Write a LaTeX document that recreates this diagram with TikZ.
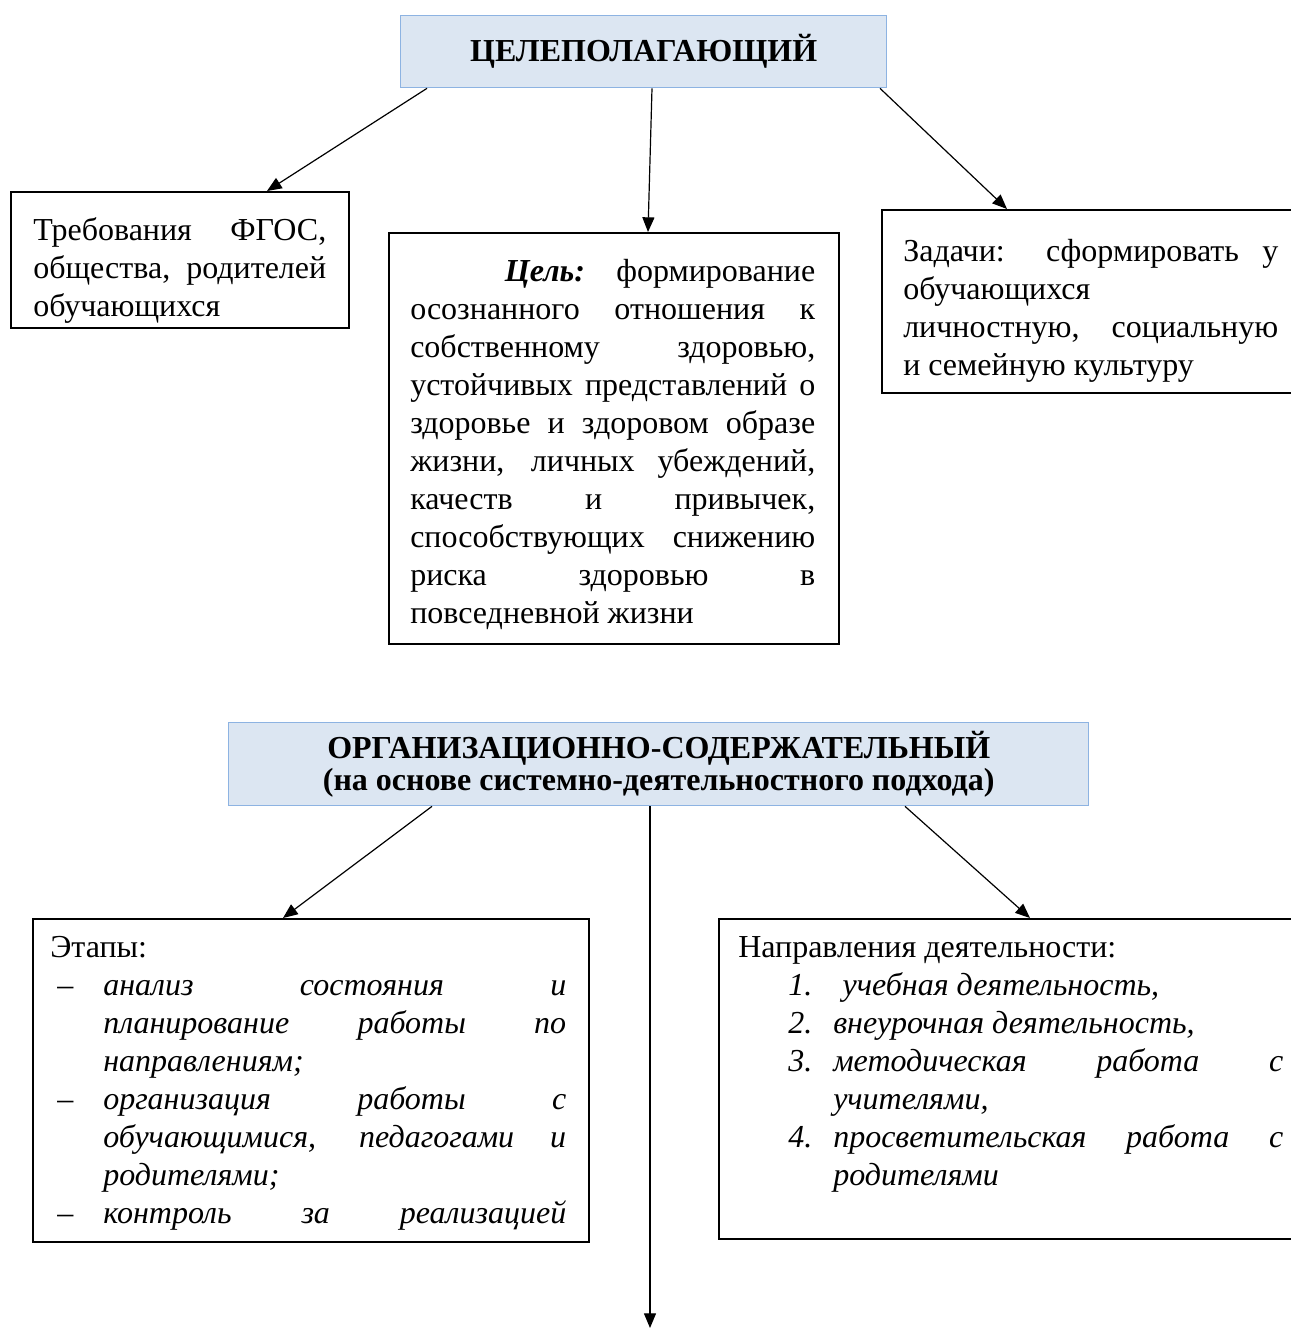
\documentclass[tikz,border=0pt]{standalone}
\usepackage{fontspec}
\setmainfont{Liberation Serif}
\usetikzlibrary{arrows.meta,calc}
\definecolor{boxfill}{RGB}{220,230,242}
\definecolor{boxline}{RGB}{141,179,226}
\tolerance=10000
\hbadness=10000
\hfuzz=100pt
\hyphenpenalty=10000
\begin{document}
\begin{tikzpicture}[x=0.75pt,y=-0.75pt,
  bluebox/.style={draw=boxline, line width=1pt, fill=boxfill, rectangle, anchor=north west, inner sep=0pt},
  plainbox/.style={draw=black, line width=1.6pt, fill=white, rectangle, anchor=north west, inner sep=0pt},
  bodytext/.style={anchor=north west, inner sep=0pt, align=justify, font=\fontsize{24pt}{28.5pt}\selectfont},
  titletext/.style={inner sep=0pt, align=center, font=\fontsize{24pt}{24pt}\selectfont\bfseries},
  arr/.style={line width=0.9pt, -{Triangle[length=11pt,width=9pt]}}]
\clip (0,0) rectangle (1291,1329);
\useasboundingbox (0,0) rectangle (1291,1329);
\fill[white] (0,0) rectangle (1291,1329);

% boxes
\node[bluebox, minimum width=364.5pt, minimum height=54pt] (b1) at (400,15) {};
\node[titletext] (b1t) at (b1.center) {ЦЕЛЕПОЛАГАЮЩИЙ};

\node[plainbox, minimum width=253.5pt, minimum height=102pt] (lb) at (10,191) {};
\node[plainbox, minimum width=337.5pt, minimum height=308.25pt] (mb) at (388,232) {};
\node[plainbox, minimum width=315pt, minimum height=137.25pt] (rb) at (881,209) {};

\node[bluebox, minimum width=645pt, minimum height=62.25pt] (b2) at (228,722) {};
\node[titletext] (b2t) at (b2.center) {ОРГАНИЗАЦИОННО-СОДЕРЖАТЕЛЬНЫЙ\\(на основе системно-деятельностного подхода)};

\node[plainbox, minimum width=417pt, minimum height=242.25pt] (lb2) at (32,918) {};
\node[plainbox, minimum width=437.25pt, minimum height=240pt] (rb2) at (718,918) {};

% texts
\node[bodytext, text width=219.75pt] (lbt) at (33,217) {\noindent Требования ФГОС,\linebreak общества, родителей\linebreak обучающихся};

\node[bodytext, text width=303.75pt] (mbt) at (410,259) {\noindent\hspace*{71pt}\textbf{\textit{Цель:}} формирование\linebreak осознанного отношения к\linebreak собственному здоровью,\linebreak устойчивых представлений о\linebreak здоровье и здоровом образе\linebreak жизни, личных убеждений,\linebreak качеств и привычек,\linebreak способствующих снижению\linebreak риска здоровью в\linebreak повседневной жизни};

\node[bodytext, text width=281.25pt] (rbt) at (903,239) {\noindent Задачи: сформировать у\linebreak обучающихся\\ личностную, социальную\linebreak и семейную культуру};

\node[bodytext, text width=387pt] (lb2t) at (50,936) {\noindent Этапы:\par
\noindent\hangindent=39.75pt\hangafter=1 \makebox[39.75pt][l]{\hspace{5.25pt}–}\textit{анализ состояния и\linebreak планирование работы по\linebreak направлениям;}\par
\noindent\hangindent=39.75pt\hangafter=1 \makebox[39.75pt][l]{\hspace{5.25pt}–}\textit{организация работы с\linebreak обучающимися, педагогами и\linebreak родителями;}\par
\noindent\hangindent=39.75pt\hangafter=1 \makebox[39.75pt][l]{\hspace{5.25pt}–}\textit{контроль за реализацией}\linebreak\mbox{}\par};

\node[bodytext, text width=408.75pt] (rb2t) at (738,936) {\noindent Направления деятельности:\par
\noindent\hangindent=71.25pt\hangafter=1 \makebox[71.25pt][l]{\hspace{37.5pt}\textit{1.}}\hspace{7pt}\textit{учебная деятельность,}\par
\noindent\hangindent=71.25pt\hangafter=1 \makebox[71.25pt][l]{\hspace{37.5pt}\textit{2.}}\textit{внеурочная деятельность,}\par
\noindent\hangindent=71.25pt\hangafter=1 \makebox[71.25pt][l]{\hspace{37.5pt}\textit{3.}}\textit{методическая работа с\linebreak учителями,}\par
\noindent\hangindent=71.25pt\hangafter=1 \makebox[71.25pt][l]{\hspace{37.5pt}\textit{4.}}\textit{просветительская работа с\linebreak родителями}\par};

% connectors
\coordinate (end5) at (650,1328);
\draw[arr] ($(b1.south west)+(27,0)$) -- ($(lb.north west)+(257,0)$);
\draw[arr] ($(b1.south west)+(252,0)$) -- ($(mb.north west)+(260,0)$);
\draw[arr] ($(b1.south west)+(480,0)$) -- ($(rb.north west)+(126,0)$);
\draw[arr] ($(b2.south west)+(204,0)$) -- ($(lb2.north west)+(251,0)$);
\draw[arr] ($(b2.south west)+(422,0)$) -- (end5);
\draw[arr] ($(b2.south west)+(677,0)$) -- ($(rb2.north west)+(312,0)$);
\end{tikzpicture}
\end{document}
